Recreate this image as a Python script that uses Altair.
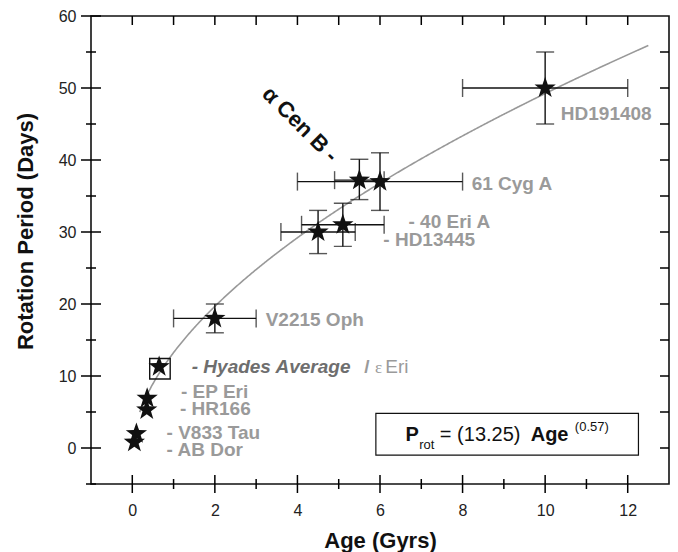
import altair as alt
import pandas as pd

# Rotation period (days) against age (Gyr) for a set of solar-type stars
star_names = ["AB Dor", "V833 Tau", "HR166", "EP Eri", "ε Eri", "V2215 Oph",
              "HD13445", "40 Eri A", "α Cen B", "61 Cyg A", "HD191408"]
star_age = [0.05, 0.10, 0.35, 0.36, 0.65, 2.0, 4.5, 5.1, 5.5, 6.0, 10.0]
star_period = [0.8, 2.0, 5.3, 6.9, 11.3, 18.0, 30.0, 31.0, 37.2, 37.0, 50.0]

# Uncertainties of the older stars
err_names = ["V2215 Oph", "HD13445", "40 Eri A", "α Cen B", "61 Cyg A", "HD191408"]
err_age = [2.0, 4.5, 5.1, 5.5, 6.0, 10.0]
err_period = [18.0, 30.0, 31.0, 37.2, 37.0, 50.0]
err_age_lo = [1.0, 3.6, 4.1, 4.9, 4.0, 8.0]
err_age_hi = [3.0, 5.4, 6.1, 6.1, 8.0, 12.0]
err_period_lo = [16.0, 27.0, 28.0, 34.5, 33.0, 45.0]
err_period_hi = [20.0, 33.0, 34.0, 40.1, 41.0, 55.0]

# Hyades cluster average
hyades_age = [0.67]
hyades_period = [11.0]

# Power-law fit  P_rot = a * Age^b
FIT_COEF = 13.25
FIT_EXP = 0.57
FIT_AGE_MIN, FIT_AGE_MAX = 0.18, 12.5

# Axis tick values
x_major = [0, 2, 4, 6, 8, 10, 12]
x_minor = [1, 3, 5, 7, 9, 11]
y_major = [0, 10, 20, 30, 40, 50, 60]
y_minor = [-5, 5, 15, 25, 35, 45, 55]

W, H = 578, 468
FONT = "Liberation Sans"
LABEL_GRAY = "#9a9a9a"

xs = alt.Scale(domain=[-1, 13], nice=False, zero=False)
ys = alt.Scale(domain=[-5, 60], nice=False, zero=False)

x_axis = alt.Axis(values=x_major, ticks=False, domain=False, grid=False,
                  labelFont=FONT, labelFontSize=16, labelColor="#222222",
                  labelPadding=31, labelBaseline="alphabetic", labelOverlap=False,
                  titleFont=FONT, titleFontSize=22, titleFontWeight="bold",
                  titleColor="#111111", titleY=63, titleBaseline="alphabetic")
y_axis = alt.Axis(values=y_major, ticks=False, domain=False, grid=False,
                  labelFont=FONT, labelFontSize=16, labelColor="#222222",
                  labelPadding=15, labelOverlap=False,
                  titleFont=FONT, titleFontSize=22, titleFontWeight="bold",
                  titleColor="#111111", titleAngle=270, titleX=-59,
                  titleY=215, titleBaseline="alphabetic", titleAlign="center")


def xenc(field):
    return alt.X(f"{field}:Q", scale=xs, axis=x_axis, title="Age (Gyrs)")


def yenc(field):
    return alt.Y(f"{field}:Q", scale=ys, axis=y_axis, title="Rotation Period (Days)")


stars = pd.DataFrame({"name": star_names, "age": star_age, "period": star_period})
errs = pd.DataFrame({"name": err_names, "age": err_age, "period": err_period,
                     "age_lo": err_age_lo, "age_hi": err_age_hi,
                     "p_lo": err_period_lo, "p_hi": err_period_hi})
hyades = pd.DataFrame({"age": hyades_age, "period": hyades_period})

# five-pointed star in the unit box
STAR = ("M0,-1L0.235,-0.324L0.951,-0.309L0.380,0.124L0.588,0.809L0,0.4"
        "L-0.588,0.809L-0.380,0.124L-0.951,-0.309L-0.235,-0.324Z")

# --- frame ticks -----------------------------------------------------------
def ticks_x(values, y0, y1):
    return alt.Chart(pd.DataFrame({"t": values})).mark_rule(
        color="black", strokeWidth=1.5).encode(
        x=xenc("t"), y=alt.value(y0), y2=alt.value(y1))


def ticks_y(values, x0, x1):
    return alt.Chart(pd.DataFrame({"t": values})).mark_rule(
        color="black", strokeWidth=1.5).encode(
        y=yenc("t"), x=alt.value(x0), x2=alt.value(x1))


tick_layers = [
    ticks_x(x_major, H - 9, H + 9),
    ticks_x(x_minor, H - 5, H + 5),
    ticks_x(x_major + x_minor, 0, 9),
    ticks_y(y_major, -10, 10),
    ticks_y(y_minor, -5, 5),
    ticks_y([v for v in y_major + y_minor if -5 < v < 60], W - 9, W),
]

# --- fit curve -------------------------------------------------------------
curve = alt.Chart(alt.sequence(FIT_AGE_MIN, FIT_AGE_MAX + 0.001, 0.02, as_="age")).transform_calculate(
    period=f"{FIT_COEF} * pow(datum.age, {FIT_EXP})"
).mark_line(color="#999999", strokeWidth=1.6).encode(
    x=xenc("age"), y=yenc("period"))

# --- error bars ------------------------------------------------------------
eb = alt.Chart(errs)
h_bar = eb.mark_rule(color="#111111", strokeWidth=1.4).encode(
    x=xenc("age_lo"), x2="age_hi:Q", y=yenc("period"))
v_bar = eb.mark_rule(color="#111111", strokeWidth=1.4).encode(
    x=xenc("age"), y=yenc("p_lo"), y2="p_hi:Q")
cap_l = eb.mark_tick(orient="vertical", size=18, thickness=1.4, color="#111111").encode(
    x=xenc("age_lo"), y=yenc("period"))
cap_r = eb.mark_tick(orient="vertical", size=18, thickness=1.4, color="#111111").encode(
    x=xenc("age_hi"), y=yenc("period"))
cap_b = eb.mark_tick(orient="horizontal", size=18, thickness=1.4, color="#111111").encode(
    x=xenc("age"), y=yenc("p_lo"))
cap_t = eb.mark_tick(orient="horizontal", size=18, thickness=1.4, color="#111111").encode(
    x=xenc("age"), y=yenc("p_hi"))

# --- markers ---------------------------------------------------------------
hyades_box = alt.Chart(hyades).mark_point(
    shape="square", size=420, filled=False, stroke="#111111", strokeWidth=1.4, opacity=1
).encode(x=xenc("age"), y=yenc("period"))

star_pts = alt.Chart(stars).mark_point(
    shape=STAR, size=500, filled=True, color="#111111", opacity=1
).encode(x=xenc("age"), y=yenc("period"))

# --- star labels -----------------------------------------------------------
label_text = ["HD191408", "61 Cyg A", "- 40 Eri A", "- HD13445", "V2215 Oph",
              "- EP Eri", "- HR166", "- V833 Tau", "- AB Dor"]
label_x = [10.38, 8.22, 6.69, 6.08, 3.23, 1.18, 1.155, 0.83, 0.83]
label_y = [45.56, 35.83, 30.6, 28.06, 16.99, 6.90, 4.58, 1.25, -1.11]
labels = alt.Chart(pd.DataFrame({"text": label_text, "x": label_x, "y": label_y})).mark_text(
    font=FONT, fontSize=19, fontWeight="bold", color=LABEL_GRAY,
    align="left", baseline="alphabetic"
).encode(x=xenc("x"), y=yenc("y"), text="text:N")

hy_lab = alt.Chart(pd.DataFrame({"text": ["- Hyades Average"], "x": [1.44], "y": [10.38]})).mark_text(
    font=FONT, fontSize=19, fontWeight="bold", fontStyle="italic", color="#6e6e6e",
    align="left", baseline="alphabetic"
).encode(x=xenc("x"), y=yenc("y"), text="text:N")
slash_lab = alt.Chart(pd.DataFrame({"text": ["/"], "x": [5.62], "y": [10.38]})).mark_text(
    font=FONT, fontSize=19, fontWeight="bold", color=LABEL_GRAY,
    align="left", baseline="alphabetic"
).encode(x=xenc("x"), y=yenc("y"), text="text:N")
eps_lab = alt.Chart(pd.DataFrame({"text": ["ε"], "x": [5.88], "y": [10.38]})).mark_text(
    font="Liberation Serif", fontSize=17, color=LABEL_GRAY,
    align="left", baseline="alphabetic"
).encode(x=xenc("x"), y=yenc("y"), text="text:N")
eri_lab = alt.Chart(pd.DataFrame({"text": ["Eri"], "x": [6.13], "y": [10.38]})).mark_text(
    font=FONT, fontSize=19, color=LABEL_GRAY,
    align="left", baseline="alphabetic"
).encode(x=xenc("x"), y=yenc("y"), text="text:N")

acen_lab = alt.Chart(pd.DataFrame({"text": ["α Cen B -"], "x": [3.12], "y": [49.0]})).mark_text(
    font=FONT, fontSize=22, fontWeight="bold", color="#111111", angle=45,
    align="left", baseline="alphabetic"
).encode(x=xenc("x"), y=yenc("y"), text="text:N")

# --- fit equation box ------------------------------------------------------
eq_box = alt.Chart(pd.DataFrame({"x": [5.9], "x2": [12.26], "y": [-1.0], "y2": [4.8]})).mark_rect(
    fill="white", stroke="#111111", strokeWidth=1.2
).encode(x=xenc("x"), x2="x2:Q", y=yenc("y"), y2="y2:Q")


def eq_text(text, x, y, size, weight="normal"):
    return alt.Chart(pd.DataFrame({"text": [text], "x": [x], "y": [y]})).mark_text(
        font=FONT, fontSize=size, fontWeight=weight, color="#111111",
        align="left", baseline="alphabetic"
    ).encode(x=xenc("x"), y=yenc("y"), text="text:N")


eq_layers = [
    eq_box,
    eq_text("P", 6.62, 1.01, 20, "bold"),
    eq_text("rot", 6.95, -0.14, 13),
    eq_text("= (13.25)", 7.45, 1.01, 20),
    eq_text("Age", 9.65, 1.01, 20, "bold"),
    eq_text(f"({FIT_EXP})", 10.72, 2.36, 13),
]

chart = alt.layer(
    curve, h_bar, v_bar, cap_l, cap_r, cap_b, cap_t,
    hyades_box, star_pts,
    labels, hy_lab, slash_lab, eps_lab, eri_lab, acen_lab,
    *eq_layers, *tick_layers,
).properties(
    width=W, height=H,
    padding={"left": 91, "top": 16, "right": 9, "bottom": 68},
    autosize=alt.AutoSizeParams(type="none"),
    background="white",
).configure_view(stroke="#111111", strokeWidth=1.6)

chart.save("out.html", embed_options={"renderer": "svg", "actions": False})
